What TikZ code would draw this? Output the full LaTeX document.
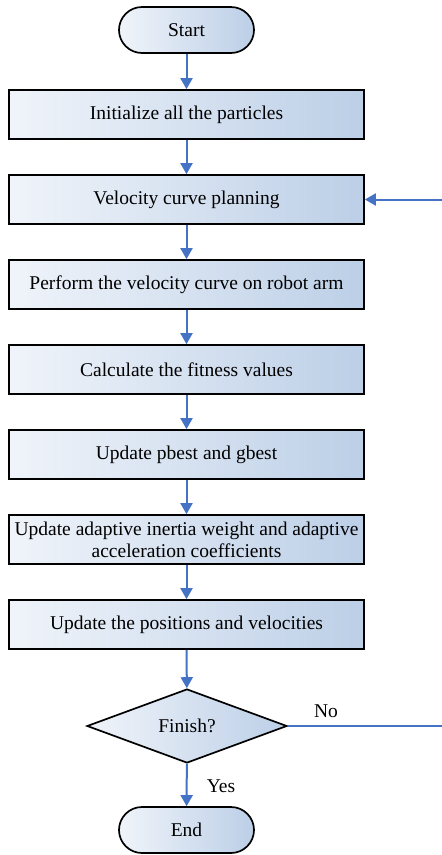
\documentclass[tikz,border=0pt]{standalone}
\usepackage{fontspec}
\setmainfont{Liberation Serif}
\usetikzlibrary{shapes.geometric,arrows.meta}
\definecolor{flowblue}{HTML}{4472C4}
\definecolor{fillright}{HTML}{BCCFE7}
\definecolor{fillleft}{HTML}{F0F4FA}
\tikzset{
  base/.style={draw=black, line width=1.7pt, left color=fillleft, right color=fillright, inner sep=0pt, align=center, font=\fontsize{19.5}{22}\selectfont},
  procbox/.style={base, rectangle, minimum width=355pt, minimum height=49pt},
  termbox/.style={base, rectangle, rounded corners=23pt, minimum width=135pt, minimum height=46pt},
  decbox/.style={base, diamond, aspect=2.7, minimum width=200pt, minimum height=74pt},
  flow/.style={draw=flowblue, line width=2pt, -{Triangle[width=12pt,length=11pt]}},
  flowline/.style={draw=flowblue, line width=2pt},
  lbl/.style={font=\fontsize{19.5}{22}\selectfont, inner sep=0pt}
}
\begin{document}
\begin{tikzpicture}[x=1pt,y=-1pt]
\useasboundingbox (0,0) rectangle (442,855);
\node[termbox] (start) at (186.5,30) {Start};
\node[procbox] (b1) at (186.5,114.5) {Initialize all the particles};
\node[procbox] (b2) at (186.5,199.5) {Velocity curve planning};
\node[procbox] (b3) at (186.5,284.5) {Perform the velocity curve on robot arm};
\node[procbox] (b4) at (186.5,369.5) {Calculate the fitness values};
\node[procbox] (b5) at (186.5,454.5) {Update pbest and gbest};
\node[procbox] (b6) at (186.5,539.5) {Update adaptive inertia weight and adaptive\\acceleration coefficients};
\node[procbox] (b7) at (186.5,624.5) {Update the positions and velocities};
\node[decbox, inner sep=0pt] (dec) at (187,726) {Finish?};
\node[termbox] (end) at (186.5,830) {End};
\coordinate (fbin) at (442,199.5);
\coordinate (noout) at (442,726);
\draw[flow] (start) -- (b1);
\draw[flow] (b1) -- (b2);
\draw[flow] (b2) -- (b3);
\draw[flow] (b3) -- (b4);
\draw[flow] (b4) -- (b5);
\draw[flow] (b5) -- (b6);
\draw[flow] (b6) -- (b7);
\draw[flow] (b7) -- (dec);
\draw[flow] (dec) -- (end);
\draw[flow] (fbin) -- (b2);
\draw[flowline] (dec.east) -- (noout);
\node[lbl] (nolbl) at (326,711) {No};
\node[lbl] (yeslbl) at (221,786) {Yes};
\end{tikzpicture}
\end{document}
